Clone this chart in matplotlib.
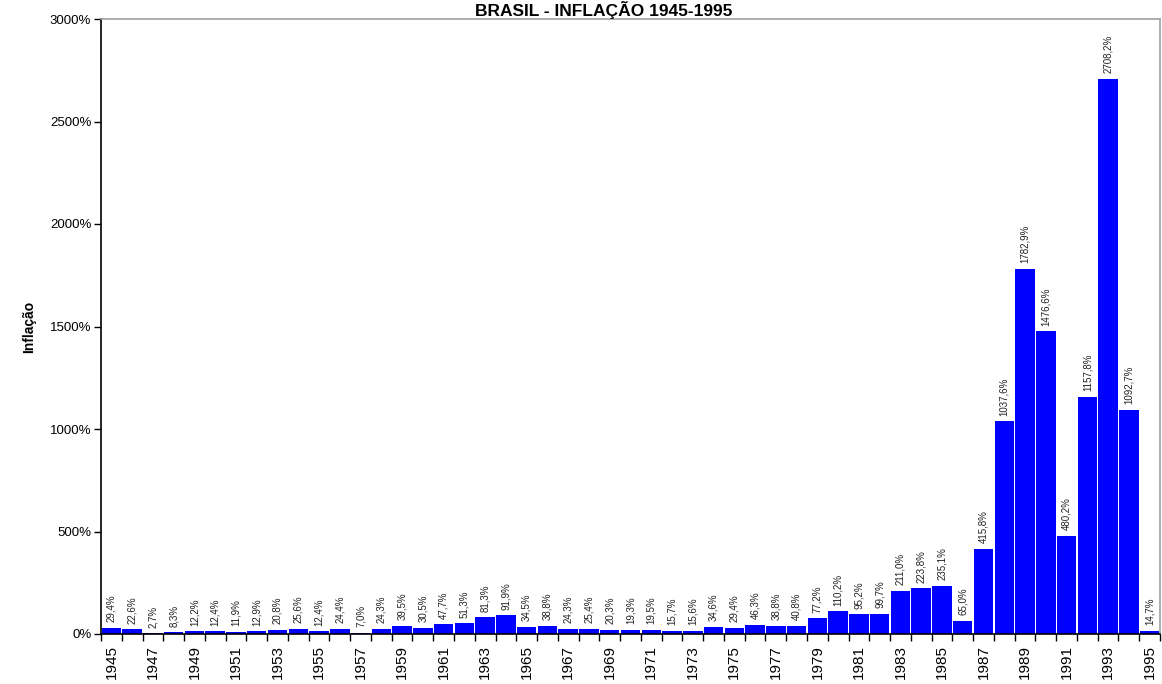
import numpy as np
import matplotlib.pyplot as plt

plt.rcParams['font.family'] = ['Liberation Sans', 'DejaVu Sans']

# inflação anual, 1945-1995
anos = list(range(1945, 1996))
inflacao = [29.4, 22.6, 2.7, 8.3, 12.2, 12.4, 11.9, 12.9, 20.8, 25.6,
            12.4, 24.4, 7.0, 24.3, 39.5, 30.5, 47.7, 51.3, 81.3, 91.9,
            34.5, 38.8, 24.3, 25.4, 20.3, 19.3, 19.5, 15.7, 15.6, 34.6,
            29.4, 46.3, 38.8, 40.8, 77.2, 110.2, 95.2, 99.7, 211.0, 223.8,
            235.1, 65.0, 415.8, 1037.6, 1782.9, 1476.6, 480.2, 1157.8, 2708.2, 1092.7,
            14.7]
yticks = [0, 500, 1000, 1500, 2000, 2500, 3000]

fig = plt.figure(figsize=(11.62, 6.84), dpi=100)
ax = fig.add_axes([101/1162, 50/684, 1059/1162, 615/684])

x = np.arange(len(anos))
ax.bar(x, inflacao, width=0.94, color='#0000ff', edgecolor='none', zorder=2)

for xi, v in zip(x, inflacao):
    txt = ('%.1f%%' % v).replace('.', ',')
    ax.annotate(txt, (xi, v), xytext=(0, 4), textcoords='offset points',
                rotation=90, ha='center', va='bottom', fontsize=7,
                color='#222222')

ax.set_xlim(-0.5, len(anos) - 0.5)
ax.set_ylim(0, 3000)
ax.set_yticks(yticks)
ax.set_yticklabels(['%d%%' % t for t in yticks], fontsize=9.5)

# labels every other year, ticks on category boundaries
ax.set_xticks(x[::2])
ax.set_xticklabels([str(a) for a in anos[::2]], rotation=90, fontsize=11)
ax.tick_params(axis='x', which='major', length=0, pad=8)
ax.set_xticks(np.arange(len(anos) + 1) - 0.5, minor=True)
ax.tick_params(axis='x', which='minor', length=5, direction='out', width=1)
ax.tick_params(axis='y', length=5, direction='out', width=1, pad=2)

for s in ['left', 'bottom']:
    ax.spines[s].set_color('black')
    ax.spines[s].set_linewidth(1.2)
for s in ['top', 'right']:
    ax.spines[s].set_color('#a0a0a0')
    ax.spines[s].set_linewidth(1.2)

ax.set_ylabel('Inflação', fontsize=10, fontweight='bold', labelpad=10)
fig.text(604/1162, 1 - 16/684, 'BRASIL - INFLAÇÃO 1945-1995', ha='center',
         va='baseline', fontsize=12.5, fontweight='bold')

fig.savefig('out.png', dpi=100)
